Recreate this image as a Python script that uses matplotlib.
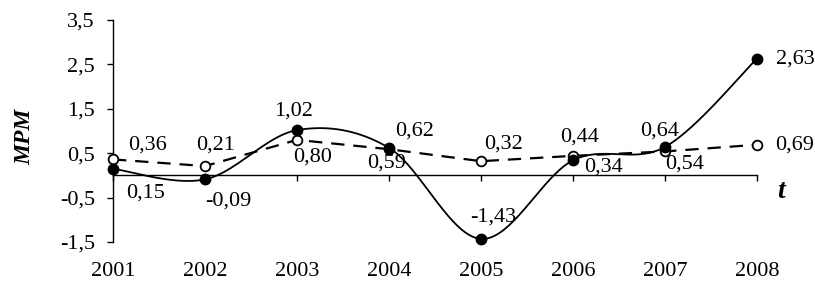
import numpy as np
import matplotlib.pyplot as plt
from matplotlib.transforms import blended_transform_factory

years = [2001, 2002, 2003, 2004, 2005, 2006, 2007, 2008]
mpm_solid = [0.15, -0.09, 1.02, 0.62, -1.43, 0.34, 0.64, 2.63]
mpm_dashed = [0.36, 0.21, 0.80, 0.59, 0.32, 0.44, 0.54, 0.69]
y_ticks = [-1.5, -0.5, 0.5, 1.5, 2.5, 3.5]

# label offsets in pixels (dx, dy upward)
solid_offsets = [(33, -24), (23, -22), (-3, 19), (26, 17), (12, 22), (30, -7), (-5, 16), (38, 0)]
dashed_offsets = [(34, 14), (11, 21), (16, -17), (-2, -14), (22, 17), (7, 19), (20, -13), (38, 0)]

FONT = "Liberation Serif"
FS = 16


def smooth(xs, ys, n=40):
    # catmull-rom style bezier smoothing (like excel's smoothed line)
    xs = np.asarray(xs, float)
    ys = np.asarray(ys, float)
    px = np.concatenate([[xs[0]], xs, [xs[-1]]])
    py = np.concatenate([[ys[0]], ys, [ys[-1]]])
    outx, outy = [], []
    t = np.linspace(0, 1, n)
    for i in range(1, len(px) - 2):
        p0 = np.array([px[i], py[i]])
        p3 = np.array([px[i + 1], py[i + 1]])
        p1 = p0 + (np.array([px[i + 1], py[i + 1]]) - np.array([px[i - 1], py[i - 1]])) / 6
        p2 = p3 - (np.array([px[i + 2], py[i + 2]]) - np.array([px[i], py[i]])) / 6
        b = ((1 - t) ** 3)[:, None] * p0 + (3 * (1 - t) ** 2 * t)[:, None] * p1 \
            + (3 * (1 - t) * t ** 2)[:, None] * p2 + (t ** 3)[:, None] * p3
        outx.extend(b[:, 0])
        outy.extend(b[:, 1])
    return outx, outy


fig = plt.figure(figsize=(8.15, 2.83), dpi=100)
ax = fig.add_axes([113 / 815, 41 / 283, 644 / 815, 222 / 283])

ax.plot(years, mpm_dashed, color="black", lw=1.6, dashes=(6, 4), zorder=2, clip_on=False)
ax.plot(years, mpm_dashed, "o", ms=7, mfc="white", mec="black", mew=1.3, zorder=3, clip_on=False)

sx, sy = smooth(years, mpm_solid)
ax.plot(sx, sy, color="black", lw=1.3, zorder=4, clip_on=False)
ax.plot(years, mpm_solid, "o", ms=7.5, color="black", zorder=5, clip_on=False)

for x, v, (dx, dy) in zip(years, mpm_solid, solid_offsets):
    ax.annotate(f"{v:.2f}".replace(".", ","), (x, v), xytext=(dx, dy), textcoords="offset pixels",
                ha="center", va="center", fontsize=FS, family=FONT, annotation_clip=False)
for x, v, (dx, dy) in zip(years, mpm_dashed, dashed_offsets):
    ax.annotate(f"{v:.2f}".replace(".", ","), (x, v), xytext=(dx, dy), textcoords="offset pixels",
                ha="center", va="center", fontsize=FS, family=FONT, annotation_clip=False)

ax.set_xlim(2001, 2008)
ax.set_ylim(-1.5, 3.5)
ax.spines["top"].set_visible(False)
ax.spines["right"].set_visible(False)
ax.spines["bottom"].set_position(("data", 0))
ax.spines["left"].set_linewidth(1.0)
ax.spines["bottom"].set_linewidth(1.0)

ax.set_xticks(years)
ax.set_xticklabels([])
ax.tick_params(axis="x", direction="out", length=4, width=1)
ax.set_yticks(y_ticks)
ax.set_yticklabels([f"{t:.1f}".replace(".", ",") for t in y_ticks], fontsize=FS, family=FONT)
ax.tick_params(axis="y", direction="out", length=4, width=1, pad=9)

trans = blended_transform_factory(ax.transData, ax.transAxes)
for x in years:
    ax.text(x, -30 / 222, str(x), transform=trans, ha="center", va="center",
            fontsize=FS, family=FONT)

fig.text(25 / 815, 1 - 137 / 283, "MPM", rotation=90, ha="center", va="center",
         fontsize=FS + 1, family=FONT, fontweight="bold", fontstyle="italic")
fig.text(781 / 815, 1 - 192 / 283, "t", ha="center", va="center",
         fontsize=FS + 4, family=FONT, fontweight="bold", fontstyle="italic")

fig.savefig("out.png", dpi=100)
